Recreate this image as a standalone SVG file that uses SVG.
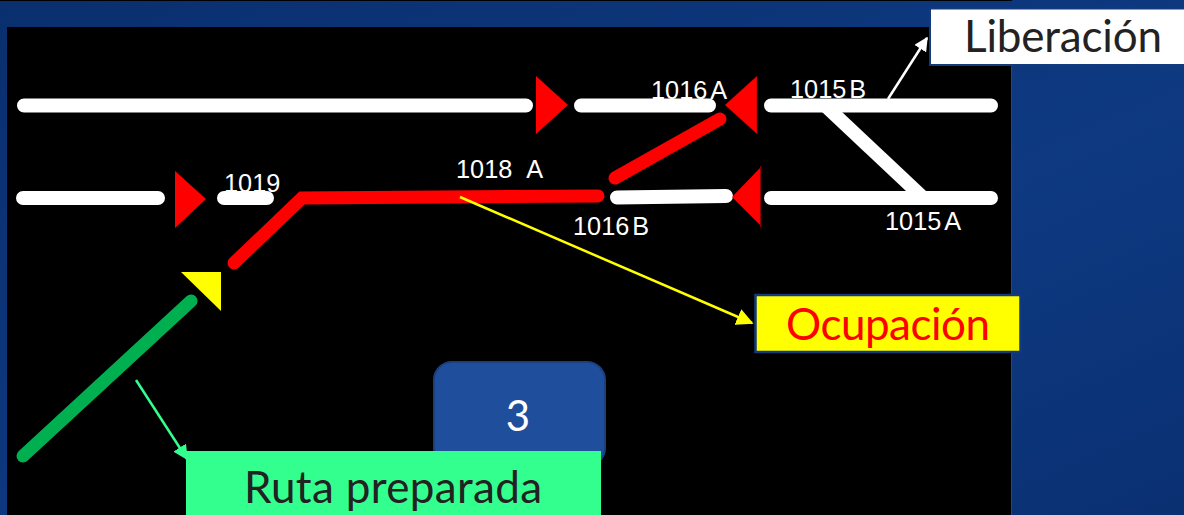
<svg xmlns="http://www.w3.org/2000/svg" width="1184" height="515" viewBox="0 0 1184 515">
<style>
.track{fill:none;stroke:#fff;stroke-width:14;stroke-linecap:round;stroke-linejoin:round}
.busy{fill:none;stroke:#f00;stroke-width:13;stroke-linecap:round;stroke-linejoin:miter}
.sig{fill:#f00}
.lbl{font-family:"Liberation Sans",Arial,sans-serif;font-size:25.300px;fill:#fff}
.big{font-family:Lato,"Open Sans",sans-serif;font-size:44px;text-anchor:middle}
.ptr{fill:none;stroke-width:2.500}
</style>
<defs>
<linearGradient id="bg" x1="0" y1="0" x2="1" y2="1">
<stop offset="0" stop-color="#0a2f6e"/><stop offset="0.6" stop-color="#0e3a82"/><stop offset="1" stop-color="#0a3072"/>
</linearGradient>
<marker id="mw" viewBox="0 0 10 10" refX="9" refY="5" markerWidth="14" markerHeight="14" markerUnits="userSpaceOnUse" orient="auto"><path d="M0 0L10 5L0 10Z" fill="#fff"/></marker>
<marker id="my" viewBox="0 0 10 10" refX="9" refY="5" markerWidth="17" markerHeight="17" markerUnits="userSpaceOnUse" orient="auto"><path d="M0 0L10 5L0 10Z" fill="#ff0"/></marker>
<marker id="mg" viewBox="0 0 10 10" refX="9" refY="5" markerWidth="15" markerHeight="15" markerUnits="userSpaceOnUse" orient="auto"><path d="M0 0L10 5L0 10Z" fill="#33ff8e"/></marker>
</defs>
<rect width="1184" height="515" fill="url(#bg)"/>
<rect x="7" y="27" width="1004" height="488" fill="#000"/>
<rect x="0" y="0" width="1012" height="1" fill="#000"/>
<rect x="1011" y="27" width="1" height="488" fill="#174a96"/>

<g id="tracks">
<path class="track" d="M24 105.500H526M581 105.500H709M771 105.500H991M23 198H158M224 198H267M771 198H991"/>
<path class="track" d="M617 197.500L726 196"/>
<polygon points="822,112 842,112 926,191 906,191" fill="#fff"/>
</g>
<g id="occupied">
<path class="busy" d="M234 263L302 198L598 196"/>
<path class="busy" d="M615 178L720 119"/>
</g>
<g id="route">
<path d="M23 456L191 301" fill="none" stroke="#00b050" stroke-width="13" stroke-linecap="round"/>
</g>
<g id="signals">
<polygon class="sig" points="175,171 206,199 175,228"/>
<polygon class="sig" points="536,76 568,105 536,134"/>
<polygon class="sig" points="725,105 757,76 757,134" stroke="#7a0000" stroke-width="0.500"/>
<polygon class="sig" points="732,197 760,168 760,225"/>
<path d="M760.500 166V227" stroke="#8a0000" stroke-width="1.200" fill="none"/>
<polygon points="181,272 221,272 221,311" fill="#ff0"/>
</g>

<g id="labels">
<text class="lbl" x="224" y="192">1019</text>
<text class="lbl" x="651" y="99">1016<tspan dx="3">A</tspan></text>
<text class="lbl" x="790" y="98">1015<tspan dx="3">B</tspan></text>
<text class="lbl" x="456" y="178">1018<tspan dx="14">A</tspan></text>
<text class="lbl" x="573" y="235">1016<tspan dx="3">B</tspan></text>
<text class="lbl" x="885" y="230">1015<tspan dx="3">A</tspan></text>
</g>

<g id="badge-3">
<rect x="434" y="362" width="171" height="104" rx="18" fill="#1f4e9c" stroke="#1a4080" stroke-width="2"/>
<text x="518" y="431" font-family="Lato,sans-serif" font-size="42" fill="#fff" text-anchor="middle">3</text>
</g>

<g id="connectors">
<path class="ptr" stroke="#fff" d="M888 99L927 38" marker-end="url(#mw)"/>
<path class="ptr" stroke="#ff0" d="M460 197L752 323" marker-end="url(#my)"/>
<path class="ptr" stroke="#33ff8e" d="M136 380L187 459" marker-end="url(#mg)"/>
</g>

<g id="liberacion">
<rect x="930" y="8.500" width="256" height="56.500" fill="#fff" stroke="#123a7c" stroke-width="2"/>
<text class="big" x="1063" y="52" fill="#222" textLength="198">Liberación</text>
</g>
<g id="ocupacion">
<rect x="755.500" y="295" width="265" height="57" fill="#ff0" stroke="#123a7c" stroke-width="2.500"/>
<text class="big" x="888" y="340" fill="#f00" textLength="204">Ocupación</text>
</g>
<g id="ruta-preparada">
<rect x="186" y="451" width="415" height="64" fill="#33ff8e"/>
<text class="big" x="393" y="503" fill="#222" textLength="298">Ruta preparada</text>
</g>
</svg>
